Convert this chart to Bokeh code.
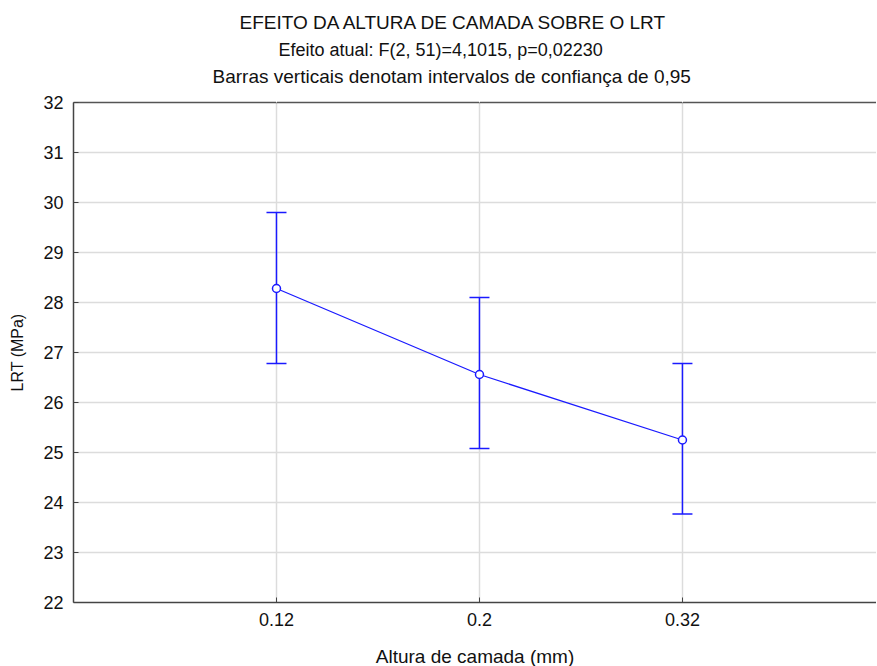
from bokeh.plotting import figure
from bokeh.models import Range1d, FixedTicker, Title, ColumnDataSource, Whisker, LinearAxis
from bokeh.embed import file_html
from bokeh.resources import INLINE

categories = ["0.12", "0.2", "0.32"]
means = [28.28, 26.56, 25.25]
ci_lower = [26.78, 25.08, 23.77]
ci_upper = [29.80, 28.10, 26.78]
y_ticks = [22, 23, 24, 25, 26, 27, 28, 29, 30, 31, 32]

xs = [i + 1 for i in range(len(categories))]
src = ColumnDataSource(dict(x=xs, m=means, lo=ci_lower, hi=ci_upper))

FONT = "Liberation Sans"
BLUE = "#1a1aff"
TXT = "#111111"

p = figure(frame_width=803, frame_height=500, output_backend="svg", toolbar_location=None,
           x_range=Range1d(0, 3.956), y_range=Range1d(22, 32),
           min_border_left=73, min_border_right=0, min_border_top=102, min_border_bottom=40)

# top border line (no right border: cut off in the reference); invisible ticks act as spacer
top_ax = LinearAxis(ticker=FixedTicker(ticks=xs), major_tick_in=0, major_tick_out=14,
                    major_tick_line_color="white", minor_tick_line_color=None,
                    major_label_text_color=None, major_label_standoff=0,
                    axis_line_color="#555555", axis_line_width=1.5)
p.add_layout(top_ax, "above")

def tkw(size, off, standoff):
    return dict(align="left", offset=off, text_font=FONT, text_font_size=size,
                text_font_style="normal", text_color=TXT, standoff=standoff)

t3 = Title(text="Barras verticais denotam intervalos de confiança de 0,95", **tkw("19px", 139, 4))
t2 = Title(text="Efeito atual: F(2, 51)=4,1015, p=0,02230", **tkw("18px", 205, 4))
p.add_layout(t3, "above")
p.add_layout(t2, "above")
p.title.text = "EFEITO DA ALTURA DE CAMADA SOBRE O LRT"
p.title.align = "left"
p.title.offset = 166
p.title.text_font = FONT
p.title.text_font_size = "19px"
p.title.text_font_style = "normal"
p.title.text_color = TXT
p.title.standoff = 6

xax = p.below[0]
yax = p.left[0]
xax.ticker = FixedTicker(ticks=xs)
xax.major_label_overrides = {x: c for x, c in zip(xs, categories)}
yax.ticker = FixedTicker(ticks=y_ticks)
for ax in (xax, yax):
    ax.major_label_text_font = FONT
    ax.major_label_text_font_size = "18px"
    ax.major_label_text_color = TXT
    ax.axis_label_text_font = FONT
    ax.axis_label_text_font_style = "normal"
    ax.axis_label_text_color = TXT
    ax.axis_line_color = "#444444"
    ax.axis_line_width = 1.5
    ax.major_tick_in = 5
    ax.major_tick_out = 0
    ax.major_tick_line_color = "#444444"
    ax.minor_tick_line_color = None
xax.axis_label = "Altura de camada (mm)"
xax.axis_label_text_font_size = "19px"
yax.axis_label = "LRT (MPa)"
yax.axis_label_text_font_size = "16px"
xax.major_label_standoff = 10
yax.major_label_standoff = 10
xax.axis_label_standoff = 17
yax.axis_label_standoff = 14

p.grid.grid_line_color = "#dcdcdc"
p.grid.grid_line_width = 1.5
p.outline_line_color = None

p.line("x", "m", source=src, line_color=BLUE, line_width=1.3)
w = Whisker(base="x", lower="lo", upper="hi", source=src, line_color=BLUE, line_width=1.5)
for h in (w.upper_head, w.lower_head):
    h.size = 20
    h.line_color = BLUE
    h.line_width = 1.5
p.add_layout(w)
p.scatter("x", "m", source=src, marker="circle", size=8, fill_color="white",
          line_color=BLUE, line_width=1.5)

open("out.html", "w").write(file_html(p, INLINE))
